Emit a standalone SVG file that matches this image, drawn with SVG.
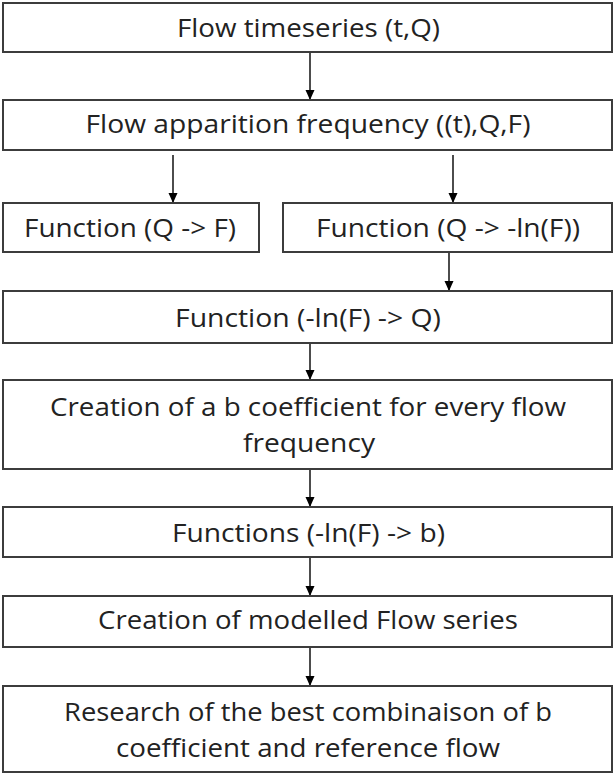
<svg xmlns="http://www.w3.org/2000/svg" width="613" height="774" viewBox="0 0 613 774">
<defs>
<style>
.box{fill:#fff;stroke:#3c3c3c;stroke-width:2}
.t{font-family:"Open Sans","Liberation Sans",sans-serif;font-size:26px;fill:#222;text-anchor:middle}
.c{stroke:#000;stroke-width:1.4;fill:none;marker-end:url(#ah)}
</style>
<marker id="ah" markerUnits="userSpaceOnUse" markerWidth="10" markerHeight="10" viewBox="0 0 10 10" refX="10" refY="5" orient="auto">
<path d="M0,0.5 L10,5 L0,9.5 Z" fill="#000"/>
</marker>
</defs>
<rect width="613" height="774" fill="#fff"/>
<g id="connectors">
<line class="c" x1="310" y1="52" x2="310" y2="100"/>
<line class="c" x1="173" y1="155" x2="173" y2="203"/>
<line class="c" x1="453" y1="155" x2="453" y2="203"/>
<line class="c" x1="449" y1="252" x2="449" y2="291"/>
<line class="c" x1="310" y1="343" x2="310" y2="380"/>
<line class="c" x1="310" y1="469" x2="310" y2="507"/>
<line class="c" x1="310" y1="557" x2="310" y2="596"/>
<line class="c" x1="310" y1="647" x2="310" y2="686"/>
</g>
<g id="n1"><rect class="box" x="3" y="3" width="609" height="49"/><text class="t" x="308.5" y="37" textLength="263" lengthAdjust="spacingAndGlyphs">Flow timeseries (t,Q)</text></g>
<g id="n2"><rect class="box" x="3" y="100" width="609" height="50"/><text class="t" x="308" y="133" textLength="445" lengthAdjust="spacingAndGlyphs">Flow apparition frequency ((t),Q,F)</text></g>
<g id="n3"><rect class="box" x="3" y="203" width="256" height="49"/><text class="t" x="130" y="237" textLength="212" lengthAdjust="spacingAndGlyphs">Function (Q -&gt; F)</text></g>
<g id="n4"><rect class="box" x="283" y="203" width="329" height="49"/><text class="t" x="448" y="237" textLength="264" lengthAdjust="spacingAndGlyphs">Function (Q -&gt; -ln(F))</text></g>
<g id="n5"><rect class="box" x="3" y="291" width="609" height="52"/><text class="t" x="308" y="327" textLength="266" lengthAdjust="spacingAndGlyphs">Function (-ln(F) -&gt; Q)</text></g>
<g id="n6"><rect class="box" x="3" y="380" width="609" height="89"/><text class="t" x="308" y="416" textLength="516" lengthAdjust="spacingAndGlyphs">Creation of a b coefficient for every flow</text><text class="t" x="309" y="452" textLength="132" lengthAdjust="spacingAndGlyphs">frequency</text></g>
<g id="n7"><rect class="box" x="3" y="507" width="609" height="50"/><text class="t" x="308.5" y="542" textLength="273" lengthAdjust="spacingAndGlyphs">Functions (-ln(F) -&gt; b)</text></g>
<g id="n8"><rect class="box" x="3" y="596" width="609" height="51"/><text class="t" x="308" y="629" textLength="420" lengthAdjust="spacingAndGlyphs">Creation of modelled Flow series</text></g>
<g id="n9"><rect class="box" x="3" y="686" width="609" height="86"/><text class="t" x="308" y="721" textLength="488" lengthAdjust="spacingAndGlyphs">Research of the best combinaison of b</text><text class="t" x="308" y="757" textLength="384" lengthAdjust="spacingAndGlyphs">coefficient and reference flow</text></g>
</svg>
